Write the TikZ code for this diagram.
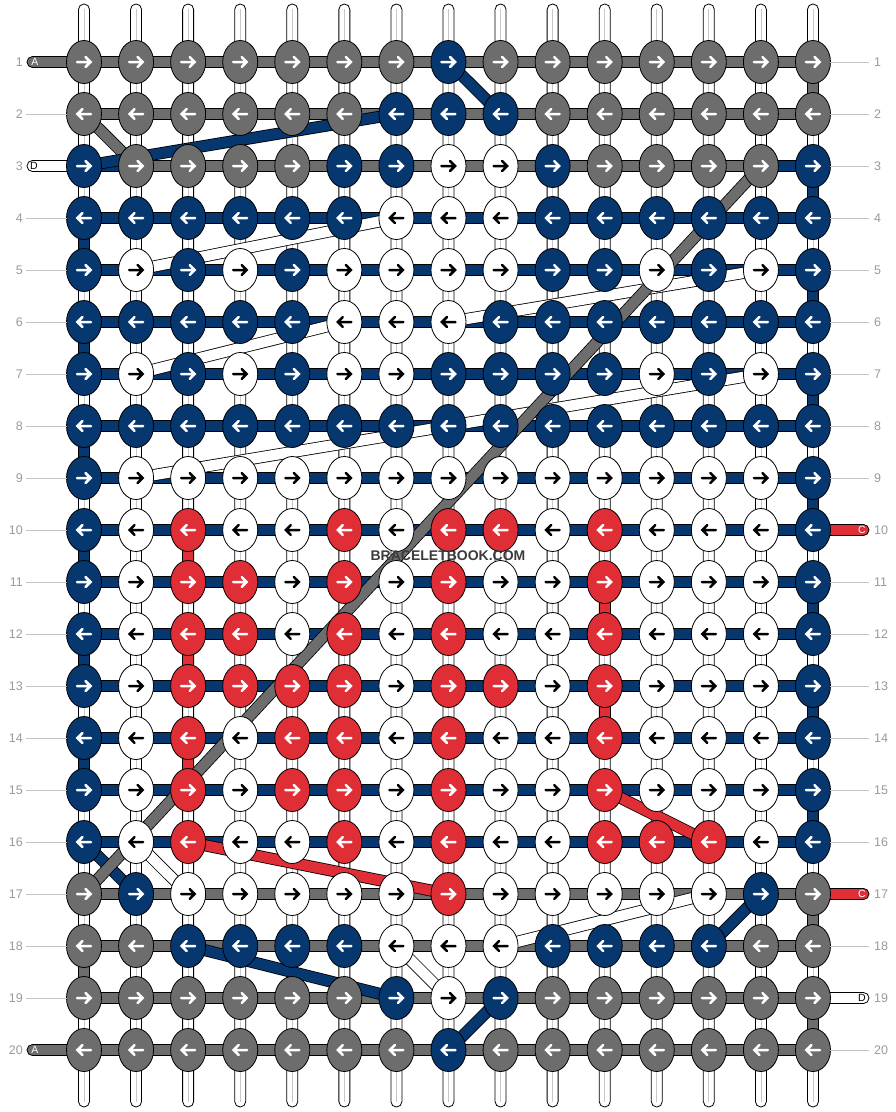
\documentclass[tikz,border=0pt]{standalone}
\usepackage{fontspec}
\setmainfont{Liberation Sans}
\usetikzlibrary{shapes.geometric}
\definecolor{cG}{HTML}{6D6D6D}
\definecolor{cB}{HTML}{07376F}
\definecolor{cR}{HTML}{DF2E36}
\definecolor{cW}{HTML}{FFFFFF}
\colorlet{aG}{white}
\colorlet{aB}{white}
\colorlet{aR}{white}
\colorlet{aW}{black}
\definecolor{lbl}{HTML}{9A9A9A}
\definecolor{lbline}{HTML}{C4C4C4}
\definecolor{midline}{HTML}{C8C8C8}
\definecolor{wmark}{HTML}{3C3C3C}
\begin{document}
\begin{tikzpicture}[x=1pt,y=-1pt,
  knot/.style={ellipse, draw=black, line width=0.8pt, minimum width=35pt, minimum height=43pt, inner sep=0pt, outer sep=0pt},
  seg/.style={draw=black, line width=0.8pt},
  arrowline/.style={line width=2.5pt, line cap=round, line join=miter},
  lblnum/.style={text=lbl, font=\fontsize{12.5}{13}\selectfont, inner sep=0pt},
  lblline/.style={draw=lbline, line width=0.9pt},
  endlbl/.style={font=\fontsize{10.5}{11}\selectfont, inner sep=0pt}]
\useasboundingbox (0,0) rectangle (896,1112);
\fill[white] (0,0) rectangle (896,1112);
% grid coordinates
\foreach \r in {1,...,20}{
  \foreach \c in {1,...,15}{
    \coordinate (p-\r-\c) at ({84+52.07*(\c-1)},{62+52*(\r-1)});
  }
}
% vertical base strands
\foreach \c in {1,...,15}{
  \coordinate (t-\c) at ({84+52.07*(\c-1)},4);
  \coordinate (b-\c) at ({84+52.07*(\c-1)},1107);
  \draw[seg, fill=white, rounded corners=5.4pt] ([xshift=-5.5pt]t-\c) rectangle ([xshift=5.5pt]b-\c);
  \draw[midline, line width=0.8pt] ([yshift=-5pt]t-\c) -- ([yshift=5pt]b-\c);
}
% coloured vertical segments
\foreach \c/\r/\h in {15/1/G,15/3/B,15/5/B,15/7/B,15/9/B,15/11/B,15/13/B,15/15/B,15/17/G,15/19/G,
  1/4/B,1/6/B,1/8/B,1/10/B,1/12/B,1/14/B,1/18/G,
  3/10/R,3/12/R,3/14/R,11/11/R,11/13/R}{
  \pgfmathtruncatemacro\rr{\r+1}
  \draw[seg, fill=c\h] ([xshift=-5.5pt]p-\r-\c) rectangle ([xshift=5.5pt]p-\rr-\c);
}
% horizontal segments
\foreach \r/\h in {1/G,2/G,3/G,4/B,5/B,6/B,7/B,8/B,9/B,10/B,11/B,12/B,13/B,14/B,15/B,16/B,17/G,18/G,19/G,20/G}{
  \foreach \c in {1,...,14}{
    \pgfmathtruncatemacro\cc{\c+1}
    \draw[seg, fill=c\h] ([yshift=5.5pt]p-\r-\c) rectangle ([yshift=-5.5pt]p-\r-\cc);
  }
}
\draw[seg, fill=cB] ([yshift=5.5pt]p-3-1) rectangle ([yshift=-5.5pt]p-3-2);
\draw[seg, fill=cB] ([yshift=5.5pt]p-3-14) rectangle ([yshift=-5.5pt]p-3-15);
% string ends
\draw[seg, fill=cG, rounded corners=5.4pt] ([xshift=-57pt,yshift=5.5pt]p-1-1) rectangle ([yshift=-5.5pt]p-1-1);
\draw[seg, fill=white, rounded corners=5.4pt] ([xshift=-57pt,yshift=5.5pt]p-3-1) rectangle ([yshift=-5.5pt]p-3-1);
\draw[seg, fill=cG, rounded corners=5.4pt] ([xshift=-57pt,yshift=5.5pt]p-20-1) rectangle ([yshift=-5.5pt]p-20-1);
\draw[seg, fill=cR, rounded corners=5.4pt] ([yshift=5.5pt]p-10-15) rectangle ([xshift=56pt,yshift=-5.5pt]p-10-15);
\draw[seg, fill=cR, rounded corners=5.4pt] ([yshift=5.5pt]p-17-15) rectangle ([xshift=56pt,yshift=-5.5pt]p-17-15);
\draw[seg, fill=white, rounded corners=5.4pt] ([yshift=5.5pt]p-19-15) rectangle ([xshift=56pt,yshift=-5.5pt]p-19-15);
\node[endlbl, text=white] (endA1) at ([xshift=-49pt]p-1-1) {A};
\node[endlbl, text=black] (endD3) at ([xshift=-50pt]p-3-1) {D};
\node[endlbl, text=white] (endA20) at ([xshift=-49pt]p-20-1) {A};
\node[endlbl, text=white] (endC10) at ([xshift=49pt]p-10-15) {C};
\node[endlbl, text=white] (endC17) at ([xshift=49pt]p-17-15) {C};
\node[endlbl, text=black] (endD19) at ([xshift=49pt]p-19-15) {D};
% floating strings
\foreach \a/\b/\h in {1-8/2-9/B, 2-1/3-2/G, 2-7/3-1/B, 4-7/5-2/W, 5-14/6-8/W, 6-6/7-2/W, 7-14/9-2/W,
  16-1/17-2/B, 16-2/17-3/W, 3-14/17-1/G, 15-11/16-13/R, 16-3/17-8/R, 17-13/18-9/W, 18-7/19-8/W,
  18-3/19-7/B, 19-9/20-8/B, 17-14/18-13/B}{
  \draw[black, line width=12pt] (p-\a) -- (p-\b);
  \draw[c\h, line width=10.4pt] (p-\a) -- (p-\b);
}
% knots
\foreach \r/\d/\row in {
  1/1/{G,G,G,G,G,G,G,B,G,G,G,G,G,G,G},
  2/-1/{G,G,G,G,G,G,B,B,B,G,G,G,G,G,G},
  3/1/{B,G,G,G,G,B,B,W,W,B,G,G,G,G,B},
  4/-1/{B,B,B,B,B,B,W,W,W,B,B,B,B,B,B},
  5/1/{B,W,B,W,B,W,W,W,W,B,B,W,B,W,B},
  6/-1/{B,B,B,B,B,W,W,W,B,B,B,B,B,B,B},
  7/1/{B,W,B,W,B,W,W,B,B,B,B,W,B,W,B},
  8/-1/{B,B,B,B,B,B,B,B,B,B,B,B,B,B,B},
  9/1/{B,W,W,W,W,W,W,W,W,W,W,W,W,W,B},
  10/-1/{B,W,R,W,W,R,W,R,R,W,R,W,W,W,B},
  11/1/{B,W,R,R,W,R,W,R,W,W,R,W,W,W,B},
  12/-1/{B,W,R,R,W,R,W,R,W,W,R,W,W,W,B},
  13/1/{B,W,R,R,R,R,W,R,R,W,R,W,W,W,B},
  14/-1/{B,W,R,W,R,R,W,R,W,W,R,W,W,W,B},
  15/1/{B,W,R,W,R,R,W,R,W,W,R,W,W,W,B},
  16/-1/{B,W,R,W,W,R,W,R,W,W,R,R,R,W,B},
  17/1/{G,B,W,W,W,W,W,R,W,W,W,W,W,B,G},
  18/-1/{G,G,B,B,B,B,W,W,W,B,B,B,B,G,G},
  19/1/{G,G,G,G,G,G,B,W,B,G,G,G,G,G,G},
  20/-1/{G,G,G,G,G,G,G,B,G,G,G,G,G,G,G}}{
  \foreach \k [count=\c] in \row {
    \node[knot, fill=c\k] (k-\r-\c) at (p-\r-\c) {};
    \begin{scope}[shift={(p-\r-\c)}, xscale=\d]
      \draw[arrowline, draw=a\k] (-7,0) -- (6,0) (1.5,-5) -- (6.5,0) -- (1.5,5);
    \end{scope}
  }
}
% row numbers
\foreach \r in {1,...,20}{
  \node[lblnum, anchor=east] (ln-\r) at ([xshift=-61pt]p-\r-1) {\r};
  \node[lblnum, anchor=west] (rn-\r) at ([xshift=61pt]p-\r-15) {\r};
}
\foreach \r in {2,4,5,6,7,8,9,10,11,12,13,14,15,16,17,18,19}{
  \draw[lblline] ([xshift=3pt]ln-\r.east) -- (k-\r-1.west);
}
\foreach \r in {1,2,3,4,5,6,7,8,9,11,12,13,14,15,16,18,20}{
  \draw[lblline] (k-\r-15.east) -- ([xshift=-5pt]rn-\r.west);
}
\node[font=\bfseries\fontsize{14}{14}\selectfont, text=wmark, inner sep=0pt] (wm) at (448,556) {BRACELETBOOK.COM};
\end{tikzpicture}
\end{document}
